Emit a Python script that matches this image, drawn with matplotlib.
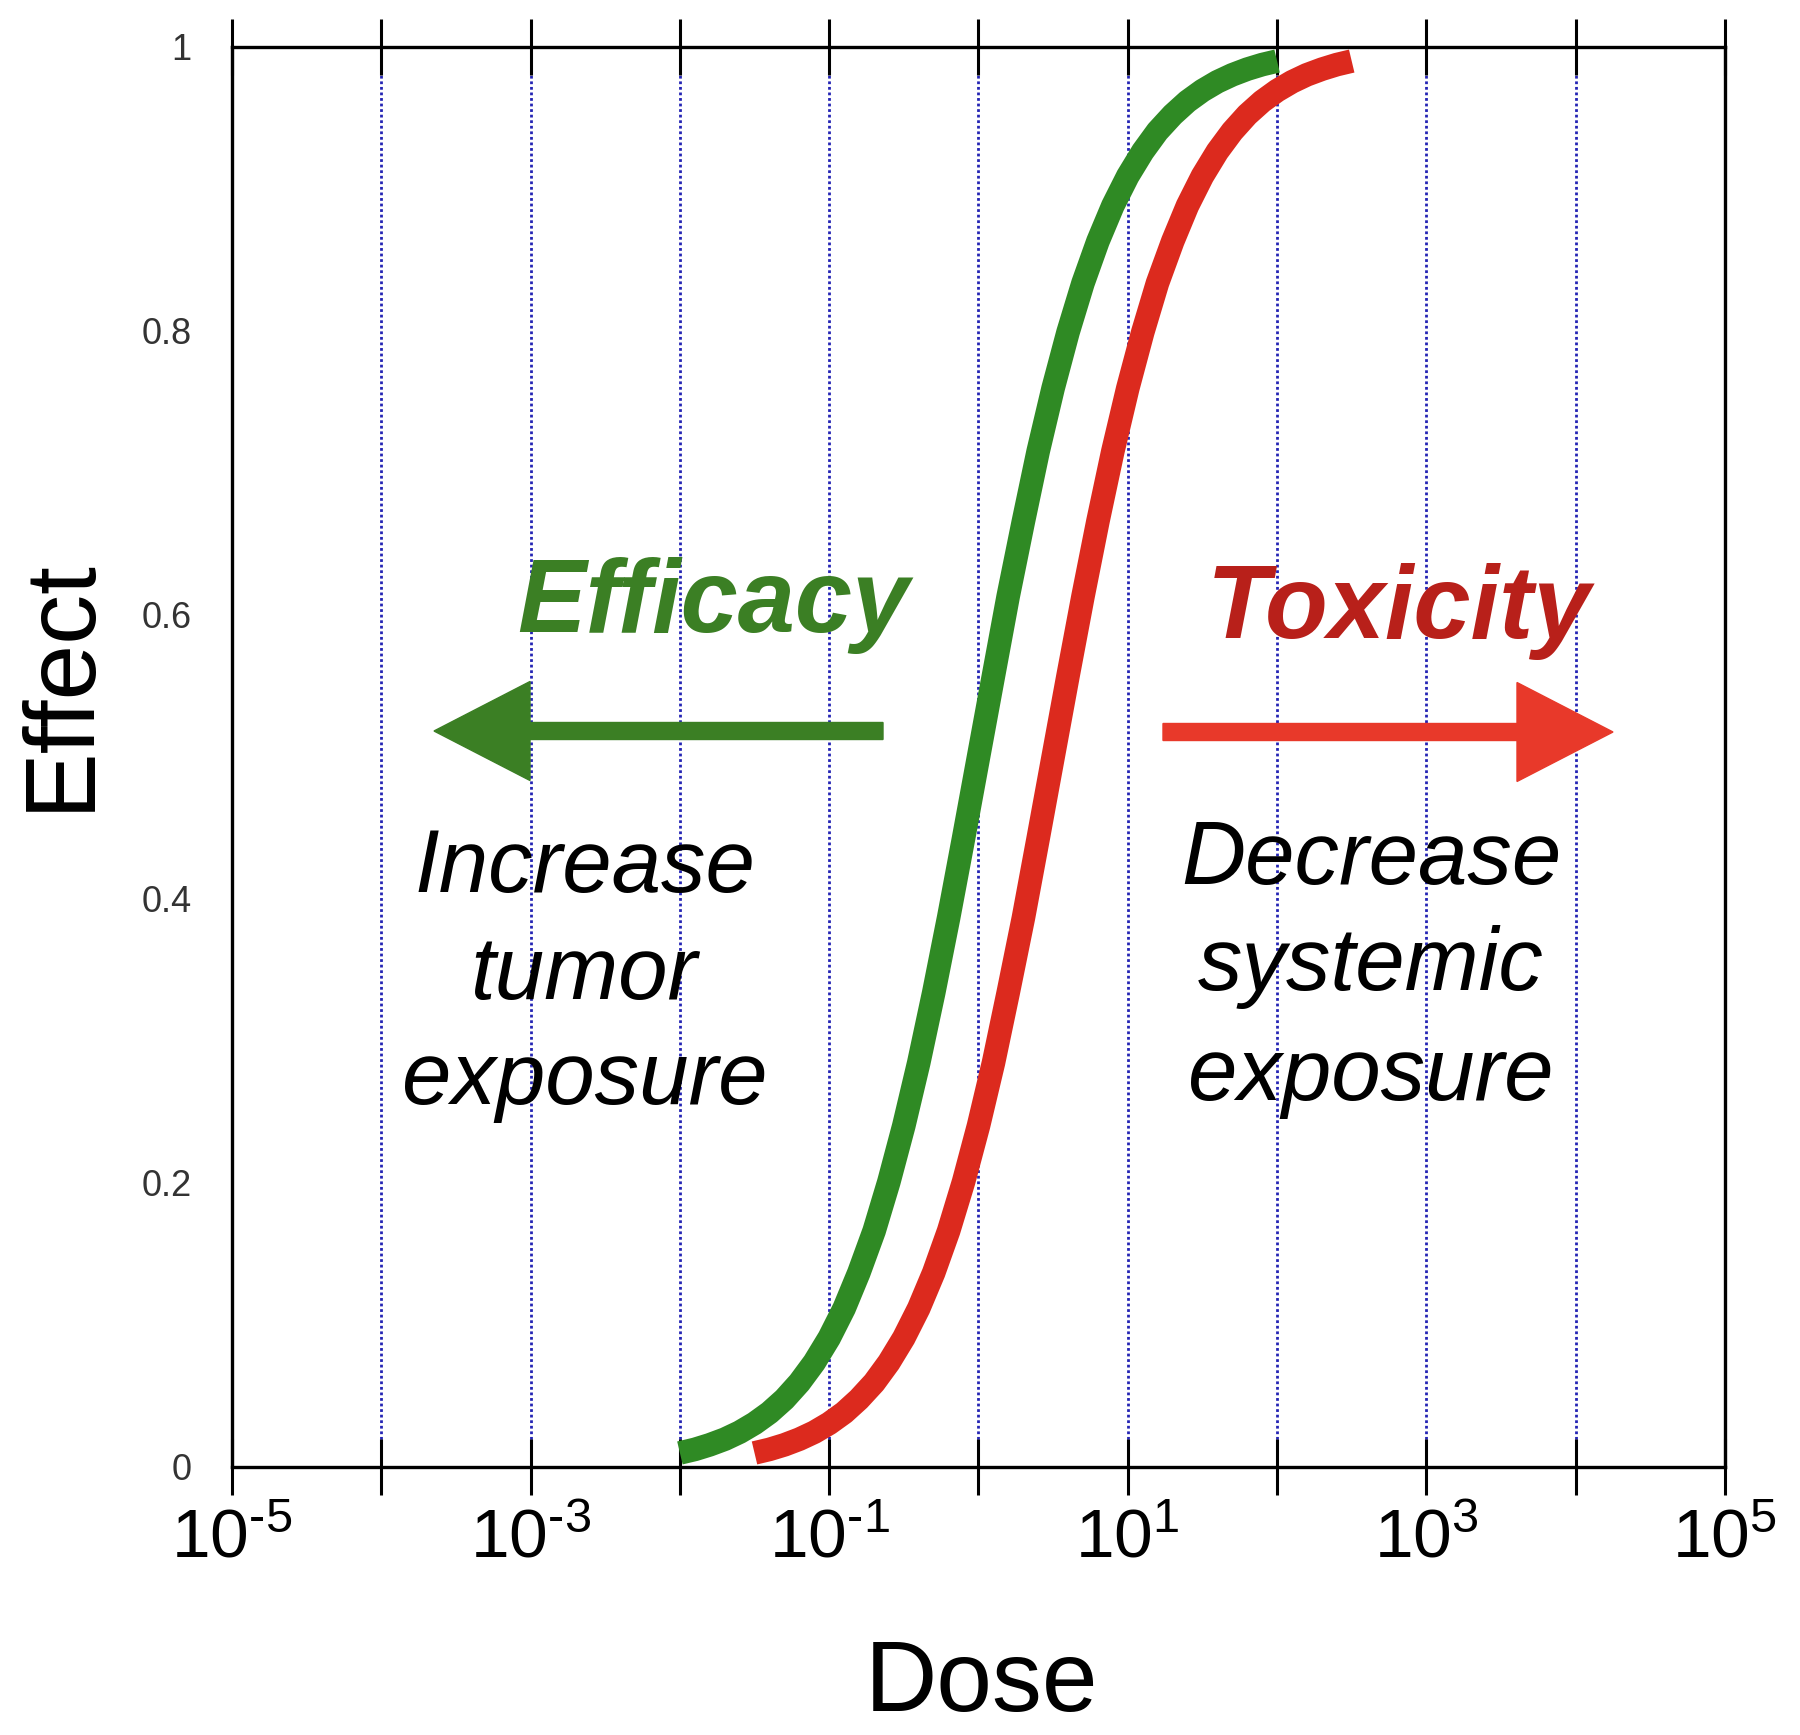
import matplotlib
matplotlib.use("Agg")
import matplotlib.pyplot as plt
from matplotlib.patches import FancyArrow

plt.rcParams['font.family'] = ['Liberation Sans', 'DejaVu Sans']
plt.rcParams['mathtext.fontset'] = 'custom'
plt.rcParams['mathtext.rm'] = 'Liberation Sans'
plt.rcParams['mathtext.it'] = 'Liberation Sans:italic'
plt.rcParams['mathtext.bf'] = 'Liberation Sans:bold'

# ---- data ----
efficacy_dose = [0.01, 0.0126, 0.0158, 0.0200, 0.0251, 0.0316, 0.0398, 0.0501, 0.0631, 0.0794,
                 0.1, 0.126, 0.158, 0.200, 0.251, 0.316, 0.398, 0.501, 0.631, 0.794,
                 1.0, 1.26, 1.58, 2.00, 2.51, 3.16, 3.98, 5.01, 6.31, 7.94,
                 10.0, 12.6, 15.8, 20.0, 25.1, 31.6, 39.8, 50.1, 63.1, 79.4, 100.0]
efficacy_effect = [0.0099, 0.0124, 0.0156, 0.0196, 0.0245, 0.0307, 0.0383, 0.0477, 0.0594, 0.0736,
                   0.0909, 0.1118, 0.1368, 0.1663, 0.2008, 0.2403, 0.2847, 0.3339, 0.3869, 0.4427,
                   0.5000, 0.5573, 0.6131, 0.6661, 0.7153, 0.7597, 0.7992, 0.8337, 0.8632, 0.8882,
                   0.9091, 0.9264, 0.9406, 0.9523, 0.9617, 0.9693, 0.9755, 0.9804, 0.9844, 0.9876,
                   0.9901]

toxicity_dose = [0.0316, 0.0398, 0.0501, 0.0631, 0.0794, 0.1, 0.126, 0.158, 0.200, 0.251,
                 0.316, 0.398, 0.501, 0.631, 0.794, 1.0, 1.26, 1.58, 2.00, 2.51,
                 3.16, 3.98, 5.01, 6.31, 7.94, 10.0, 12.6, 15.8, 20.0, 25.1,
                 31.6, 39.8, 50.1, 63.1, 79.4, 100.0, 126.0, 158.0, 200.0, 251.0, 316.0]
toxicity_effect = [0.0099, 0.0124, 0.0156, 0.0196, 0.0245, 0.0307, 0.0383, 0.0477, 0.0594, 0.0736,
                   0.0909, 0.1118, 0.1368, 0.1663, 0.2008, 0.2403, 0.2847, 0.3339, 0.3869, 0.4427,
                   0.5000, 0.5573, 0.6131, 0.6661, 0.7153, 0.7597, 0.7992, 0.8337, 0.8632, 0.8882,
                   0.9091, 0.9264, 0.9406, 0.9523, 0.9617, 0.9693, 0.9755, 0.9804, 0.9844, 0.9876,
                   0.9901]

x_exponents = [-5, -4, -3, -2, -1, 0, 1, 2, 3, 4, 5]
x_labels = [(r'$\mathregular{10^{\text{-}%d}}$' % abs(e) if e < 0 else r'$\mathregular{10^{%d}}$' % e)
            if e % 2 else '' for e in x_exponents]
y_ticks = [0, 0.2, 0.4, 0.6, 0.8, 1]
y_labels = ['0', '0.2', '0.4', '0.6', '0.8', '1']

W, H = 1800, 1735
fig = plt.figure(figsize=(W / 100, H / 100), dpi=100)
ax = fig.add_axes([232 / W, 1 - 1467 / H, (1725 - 232) / W, (1467 - 47) / H])

ax.set_xscale('log')
ax.set_xlim(1e-5, 1e5)
ax.set_ylim(0, 1)

ax.set_xticks([10.0 ** e for e in x_exponents])
ax.set_xticklabels(x_labels)
ax.xaxis.set_minor_locator(matplotlib.ticker.NullLocator())
ax.set_yticks(y_ticks)
ax.set_yticklabels(y_labels)

ax.tick_params(axis='x', which='major', direction='inout', length=40, width=2.2,
               top=True, labelsize=50, pad=9, colors='black')
ax.tick_params(axis='y', length=0, labelsize=26, pad=29, labelcolor='#333333')

for s in ax.spines.values():
    s.set_linewidth(2.4)
    s.set_color('black')

ax.grid(axis='x', which='major', color='#2424b4', linestyle=(0, (1, 1)), linewidth=2.0)
ax.set_axisbelow(True)

ax.plot(efficacy_dose, efficacy_effect, color='#2f8a24', lw=17, solid_capstyle='butt', zorder=3)
ax.plot(toxicity_dose, toxicity_effect, color='#dc2a1e', lw=17, solid_capstyle='butt', zorder=3)

def px(x, y):
    return x / W, 1 - y / H

# Labels
fig.text(*px(981, 1711), 'Dose', fontsize=72, ha='center', va='baseline')
fig.text(*px(88, 684), 'Effect', fontsize=72, ha='center', va='baseline',
         rotation=90, rotation_mode='anchor')

# Headline words
fig.text(*px(713, 632), 'Efficacy', fontsize=74, fontweight='bold', fontstyle='italic',
         color='#3b7f24', ha='center', va='baseline')
fig.text(*px(1399, 638), 'Toxicity', fontsize=74, fontweight='bold', fontstyle='italic',
         color='#b8201a', ha='center', va='baseline')

# Descriptive text
left_lines = ['Increase', 'tumor', 'exposure']
left_base = [892, 999, 1104]
for t, b in zip(left_lines, left_base):
    fig.text(*px(585, b), t, fontsize=64, fontstyle='italic', color='black',
             ha='center', va='baseline')
right_lines = ['Decrease', 'systemic', 'exposure']
right_base = [884, 990, 1100]
for t, b in zip(right_lines, right_base):
    fig.text(*px(1371, b), t, fontsize=64, fontstyle='italic', color='black',
             ha='center', va='baseline')

# Arrows (figure inches; dpi=100)
green_arrow = FancyArrow(8.83, (H - 731) / 100, -4.49, 0, width=0.17, head_width=0.99,
                         head_length=0.96, length_includes_head=True,
                         color='#3b7f24', transform=fig.dpi_scale_trans)
red_arrow = FancyArrow(11.63, (H - 732) / 100, 4.50, 0, width=0.17, head_width=0.99,
                       head_length=0.96, length_includes_head=True,
                       color='#e8392a', transform=fig.dpi_scale_trans)
fig.add_artist(green_arrow)
fig.add_artist(red_arrow)

fig.savefig('out.png', dpi=100, facecolor='white')
